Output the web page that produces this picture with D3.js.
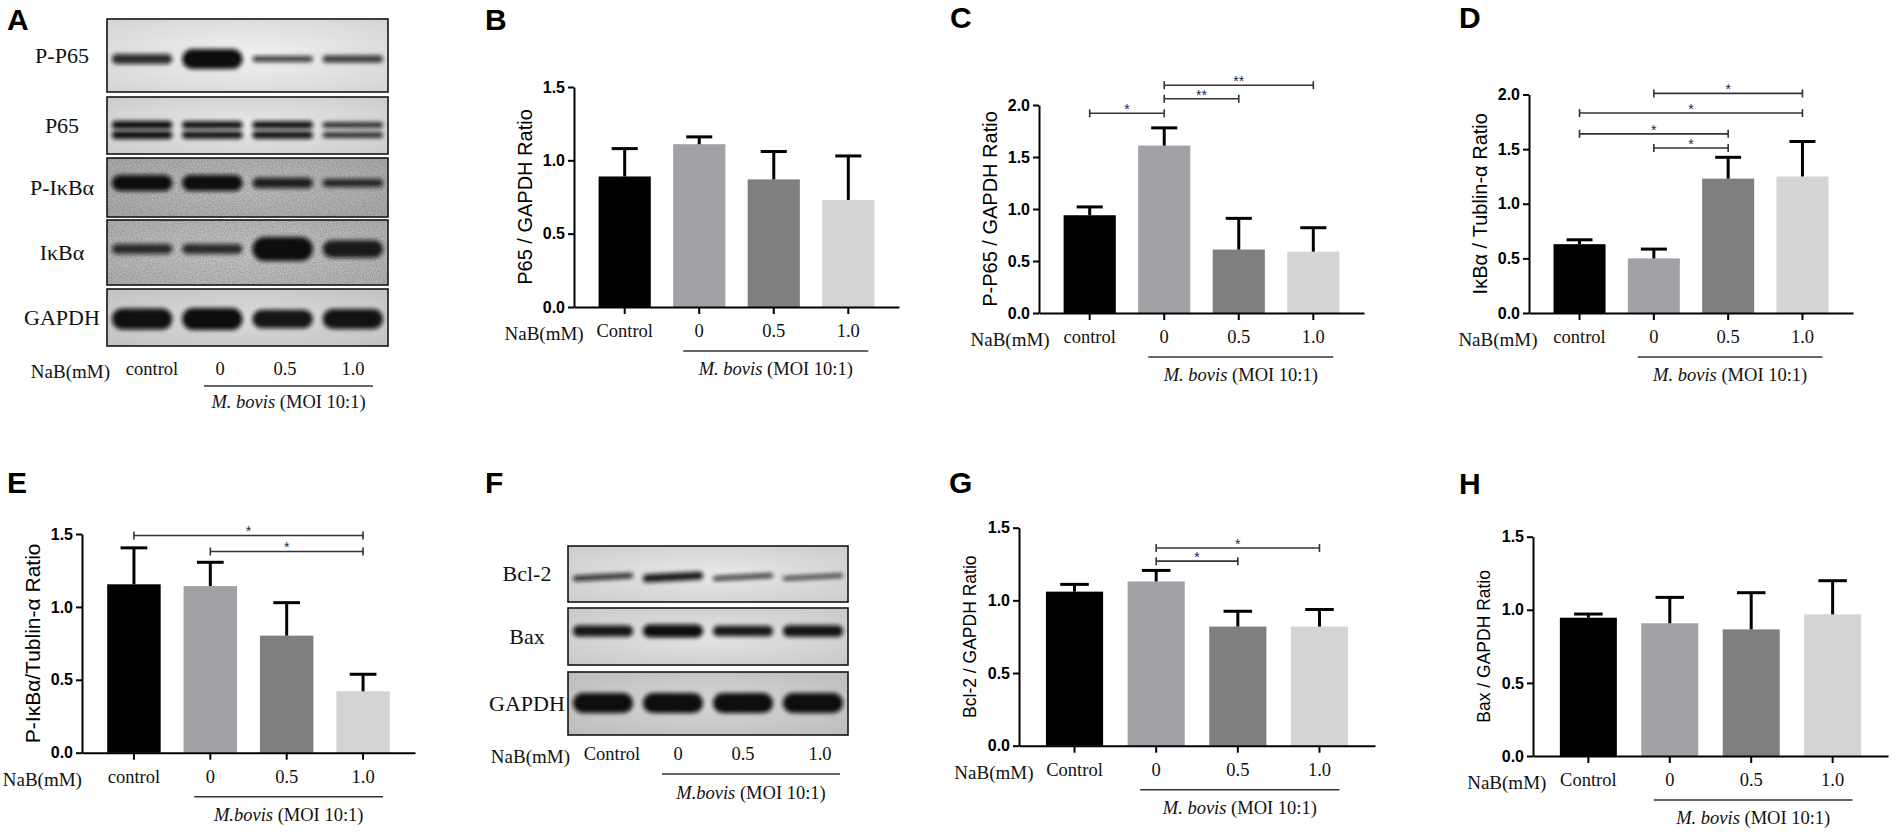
<!DOCTYPE html>
<meta charset="utf-8">
<script src="https://d3js.org/d3.v7.min.js"></script>
<style>
  body { margin: 0; background: #fff; }
  svg { display: block; }
</style>
<body>
<div id="fig"></div>

<script>
// ---- data ----
var groupsLower = ["control", "0", "0.5", "1.0"];
var groupsUpper = ["Control", "0", "0.5", "1.0"];

// B: P65 / GAPDH
var p65Mean = [0.89, 1.11, 0.87, 0.73];
var p65Sd   = [0.19, 0.05, 0.19, 0.30];
// C: P-P65 / GAPDH
var pp65Mean = [0.94, 1.61, 0.61, 0.59];
var pp65Sd   = [0.08, 0.17, 0.30, 0.23];
var pp65Sig  = [[0, 1, 1.92, "*"], [1, 2, 2.06, "**"], [1, 3, 2.19, "**"]];
// D: IkBa / Tublin-a
var ikbMean = [0.63, 0.50, 1.23, 1.25];
var ikbSd   = [0.04, 0.085, 0.195, 0.32];
var ikbSig  = [[1, 3, 2.01, "*"], [0, 3, 1.83, "*"], [0, 2, 1.64, "*"], [1, 2, 1.51, "*"]];
// E: P-IkBa / Tublin-a
var pikbMean = [1.155, 1.143, 0.803, 0.421];
var pikbSd   = [0.25, 0.163, 0.226, 0.117];
var pikbSig  = [[0, 3, 1.49, "*"], [1, 3, 1.38, "*"]];
// G: Bcl-2 / GAPDH
var bcl2Mean = [1.06, 1.13, 0.82, 0.82];
var bcl2Sd   = [0.05, 0.076, 0.105, 0.117];
var bcl2Sig  = [[1, 2, 1.27, "*"], [1, 3, 1.36, "*"]];
// H: Bax / GAPDH
var baxMean = [0.946, 0.908, 0.866, 0.969];
var baxSd   = [0.025, 0.177, 0.251, 0.23];

// relative band strength per lane (western blots)
var bandPP65  = [0.5, 1.0, 0.3, 0.35];
var bandP65   = [1.0, 0.95, 0.95, 0.7];
var bandPIkb  = [1.0, 1.0, 0.65, 0.5];
var bandIkb   = [0.42, 0.42, 1.0, 0.72];
var bandGapA  = [0.95, 1.0, 0.85, 0.9];
var bandBcl2  = [0.55, 0.8, 0.45, 0.4];
var bandBax   = [0.85, 1.0, 0.8, 0.9];
var bandGapF  = [1.0, 1.0, 1.0, 1.0];

var barColors = ["#000000", "#a2a2a6", "#7f7f7f", "#d4d4d4"];
var SANS = '"Liberation Sans", Arial, sans-serif';
var SERIF = '"Liberation Serif", "Times New Roman", serif';

var svg = d3.select("#fig").append("svg")
  .attr("width", 1900)
  .attr("height", 839);

var defs = svg.append("defs");
defs.append("filter").attr("id", "blur")
  .attr("x", "-20%").attr("y", "-80%").attr("width", "140%").attr("height", "260%")
  .append("feGaussianBlur").attr("stdDeviation", 2.3);
var vig = defs.append("radialGradient").attr("id", "vignette")
  .attr("cx", "50%").attr("cy", "50%").attr("r", "70%");
vig.append("stop").attr("offset", "0%").attr("stop-color", "#000").attr("stop-opacity", 0);
vig.append("stop").attr("offset", "100%").attr("stop-color", "#000").attr("stop-opacity", 0.12);
var noise = defs.append("filter").attr("id", "noise");
noise.append("feTurbulence").attr("type", "fractalNoise").attr("baseFrequency", 0.8).attr("numOctaves", 2).attr("seed", 3);
noise.append("feColorMatrix").attr("type", "matrix")
  .attr("values", "0 0 0 0 0  0 0 0 0 0  0 0 0 0 0  0 0 0 0.5 -0.1");

function panelLetter(t, x, y) {
  svg.append("text").attr("x", x).attr("y", y)
    .style("font-family", SANS).style("font-weight", "bold").style("font-size", "30px")
    .text(t);
}

// NaB row, lane labels, bracket line and M. bovis caption
function laneLabels(centers, labels, o) {
  var g = svg.append("g").style("font-family", SERIF).style("fill", "#111");
  g.append("text").attr("x", o.nabEnd).attr("y", o.base + 3)
    .attr("text-anchor", "end").style("font-size", "19px").text("NaB(mM)");
  g.selectAll("text.lane").data(labels).join("text").attr("class", "lane")
    .attr("x", function(d, i) { return centers[i]; })
    .attr("y", o.base)
    .attr("text-anchor", "middle").style("font-size", "18.5px")
    .text(function(d) { return d; });
  g.append("line")
    .attr("x1", centers[1] - 16).attr("x2", centers[3] + 20)
    .attr("y1", o.lineY).attr("y2", o.lineY)
    .attr("stroke", "#333").attr("stroke-width", 1.6);
  var t = g.append("text").attr("x", (centers[1] + centers[3]) / 2 + 2).attr("y", o.capY)
    .attr("text-anchor", "middle").style("font-size", "18.5px");
  t.append("tspan").style("font-style", "italic").text(o.bovis);
  t.append("tspan").text(" (MOI 10:1)");
}

function barChart(c) {
  var g = svg.append("g");
  var x = d3.scaleBand().domain(d3.range(4)).range([c.x0, c.x1])
    .paddingInner(0.3).paddingOuter(0.33);
  var y = d3.scaleLinear().domain([0, c.ymax]).range([c.yb, c.yt]);
  var bw = x.bandwidth();
  var cx = function(i) { return x(i) + bw / 2; };

  g.selectAll("rect.bar").data(c.mean).join("rect")
    .attr("x", function(d, i) { return x(i); })
    .attr("y", function(d) { return y(d); })
    .attr("width", bw)
    .attr("height", function(d) { return y(0) - y(d); })
    .attr("fill", function(d, i) { return barColors[i]; });

  var eb = g.selectAll("g.err").data(c.mean).join("g").attr("class", "err")
    .attr("stroke", "#000").attr("stroke-width", 3);
  eb.append("line")
    .attr("x1", function(d, i) { return cx(i); })
    .attr("x2", function(d, i) { return cx(i); })
    .attr("y1", function(d) { return y(d); })
    .attr("y2", function(d, i) { return y(d + c.sd[i]); });
  eb.append("line")
    .attr("x1", function(d, i) { return cx(i) - bw / 4; })
    .attr("x2", function(d, i) { return cx(i) + bw / 4; })
    .attr("y1", function(d, i) { return y(d + c.sd[i]); })
    .attr("y2", function(d, i) { return y(d + c.sd[i]); });

  var ya = g.append("g").attr("transform", "translate(" + c.x0 + ",0)")
    .call(d3.axisLeft(y).tickValues(d3.range(0, c.ymax + 0.01, 0.5))
      .tickFormat(d3.format(".1f")).tickSize(6).tickSizeOuter(0).tickPadding(3));
  ya.selectAll("path, line").attr("stroke", "#000").attr("stroke-width", 2);
  ya.selectAll("text").style("font-family", SANS).style("font-weight", "bold")
    .style("font-size", "16px").attr("fill", "#000");

  var xa = g.append("g").attr("transform", "translate(0," + c.yb + ")")
    .call(d3.axisBottom(x).tickFormat("").tickSize(7).tickSizeOuter(0));
  xa.selectAll("path, line").attr("stroke", "#000").attr("stroke-width", 2);

  g.append("text")
    .attr("transform", "translate(" + (c.x0 - 49) + "," + ((c.yb + c.yt) / 2) + ") rotate(-90)")
    .attr("text-anchor", "middle").attr("dy", "0.35em")
    .style("font-family", SANS).style("font-size", c.titleSize + "px")
    .text(c.title);

  // significance brackets
  (c.sig || []).forEach(function(s) {
    var xa1 = cx(s[0]), xb1 = cx(s[1]), yy = y(s[2]);
    var b = g.append("g").attr("stroke", "#333").attr("stroke-width", 1.6);
    b.append("line").attr("x1", xa1).attr("x2", xb1).attr("y1", yy).attr("y2", yy);
    b.append("line").attr("x1", xa1).attr("x2", xa1).attr("y1", yy - 4).attr("y2", yy + 4);
    b.append("line").attr("x1", xb1).attr("x2", xb1).attr("y1", yy - 4).attr("y2", yy + 4);
    g.append("text").attr("x", (xa1 + xb1) / 2).attr("y", yy + 1)
      .attr("text-anchor", "middle")
      .style("font-family", SANS).style("font-size", "14px").attr("fill", "#1d2550")
      .text(s[3]);
  });

  laneLabels(d3.range(4).map(cx), c.labels, {
    nabEnd: cx(0) - c.nabGap, base: c.yb + 30, lineY: c.yb + 44,
    capY: c.yb + 68, bovis: c.bovis
  });
}

// western blot panel
function blot(c) {
  var x = d3.scaleBand().domain(d3.range(4)).range([c.x0, c.x1]);
  var bw = x.bandwidth();
  c.rows.forEach(function(r, k) {
    var g = svg.append("g");
    var clipId = c.id + "clip" + k;
    defs.append("clipPath").attr("id", clipId).append("rect")
      .attr("x", c.x0).attr("y", r.y0).attr("width", c.x1 - c.x0).attr("height", r.y1 - r.y0);
    var inner = g.append("g").attr("clip-path", "url(#" + clipId + ")");
    inner.append("rect").attr("x", c.x0).attr("y", r.y0)
      .attr("width", c.x1 - c.x0).attr("height", r.y1 - r.y0).attr("fill", r.bg);
    if (r.grain) {
      inner.append("rect").attr("x", c.x0).attr("y", r.y0)
        .attr("width", c.x1 - c.x0).attr("height", r.y1 - r.y0)
        .attr("filter", "url(#noise)").attr("opacity", 0.7);
    }
    inner.append("rect").attr("x", c.x0).attr("y", r.y0)
      .attr("width", c.x1 - c.x0).attr("height", r.y1 - r.y0).attr("fill", "url(#vignette)");
    var offs = r.double ? [-5, 5] : [0];
    offs.forEach(function(off) {
      inner.selectAll(null).data(r.bands).join("rect")
        .attr("x", function(d, i) { return x(i) + bw * 0.07; })
        .attr("width", bw * 0.86)
        .attr("y", function(d) { return r.cy + off - r.maxT * d / 2; })
        .attr("height", function(d) { return r.maxT * d; })
        .attr("rx", function(d) { return r.maxT * d / 2; })
        .attr("fill", "#0c0c0c")
        .attr("opacity", function(d) { return 0.7 + 0.3 * d; })
        .attr("filter", "url(#blur)")
        .attr("transform", function(d, i) {
          return r.tilt ? "rotate(" + r.tilt + "," + (x(i) + bw / 2) + "," + r.cy + ")" : null;
        });
    });
    g.append("rect").attr("x", c.x0).attr("y", r.y0)
      .attr("width", c.x1 - c.x0).attr("height", r.y1 - r.y0)
      .attr("fill", "none").attr("stroke", "#151515").attr("stroke-width", 1.6);
    svg.append("text").attr("x", c.labelX).attr("y", (r.y0 + r.y1) / 2 + 7)
      .attr("text-anchor", "middle")
      .style("font-family", SERIF).style("font-size", "22px").attr("fill", "#111")
      .text(r.label);
  });
  return d3.range(4).map(function(i) { return x(i) + bw / 2; });
}

// ---- A ----
panelLetter("A", 7, 30);
blot({
  id: "a", x0: 107, x1: 388, labelX: 62,
  rows: [
    { label: "P-P65", y0: 19, y1: 92, bg: "#f1f1f1", bands: bandPP65, maxT: 20, cy: 59 },
    { label: "P65", y0: 97, y1: 154, bg: "#e8e8e8", bands: bandP65, maxT: 8, cy: 130, double: true },
    { label: "P-I\u03baB\u03b1", y0: 158, y1: 217, bg: "#cacaca", bands: bandPIkb, maxT: 16, cy: 183, grain: true },
    { label: "I\u03baB\u03b1", y0: 220, y1: 285, bg: "#d2d2d2", bands: bandIkb, maxT: 24, cy: 249, grain: true },
    { label: "GAPDH", y0: 289, y1: 346, bg: "#dcdcdc", bands: bandGapA, maxT: 22, cy: 319 }
  ]
});
laneLabels([152, 220, 285, 353], groupsLower, {
  nabEnd: 110, base: 375, lineY: 386, capY: 408, bovis: "M. bovis"
});

// ---- B, C, D ----
panelLetter("B", 485, 30);
barChart({ x0: 574, x1: 899, yb: 307, yt: 87, ymax: 1.5, mean: p65Mean, sd: p65Sd,
  title: "P65 / GAPDH Ratio", titleSize: 20, labels: groupsUpper, nabGap: 41, bovis: "M. bovis" });

panelLetter("C", 950, 28);
barChart({ x0: 1039, x1: 1364, yb: 313, yt: 105, ymax: 2, mean: pp65Mean, sd: pp65Sd, sig: pp65Sig,
  title: "P-P65 / GAPDH Ratio", titleSize: 20, labels: groupsLower, nabGap: 40, bovis: "M. bovis" });

panelLetter("D", 1459, 28);
barChart({ x0: 1529, x1: 1853, yb: 313, yt: 94.5, ymax: 2, mean: ikbMean, sd: ikbSd, sig: ikbSig,
  title: "I\u03baB\u03b1 / Tublin-\u03b1 Ratio", titleSize: 20, labels: groupsLower, nabGap: 42, bovis: "M. bovis" });

// ---- E ----
panelLetter("E", 7, 493);
barChart({ x0: 82, x1: 415, yb: 752.7, yt: 534, ymax: 1.5, mean: pikbMean, sd: pikbSd, sig: pikbSig,
  title: "P-I\u03baB\u03b1/Tublin-\u03b1 Ratio", titleSize: 21, labels: groupsLower, nabGap: 52, bovis: "M.bovis" });

// ---- F ----
panelLetter("F", 485, 493);
blot({
  id: "f", x0: 568, x1: 848, labelX: 527,
  rows: [
    { label: "Bcl-2", y0: 546, y1: 602, bg: "#e8e8e8", bands: bandBcl2, maxT: 10, cy: 577, tilt: -3 },
    { label: "Bax", y0: 608, y1: 665, bg: "#e4e4e4", bands: bandBax, maxT: 13, cy: 631 },
    { label: "GAPDH", y0: 672, y1: 735, bg: "#d6d6d6", bands: bandGapF, maxT: 20, cy: 703 }
  ]
});
laneLabels([612, 678, 743, 820], groupsUpper, {
  nabEnd: 570, base: 760, lineY: 774, capY: 799, bovis: "M.bovis"
});

// ---- G, H ----
panelLetter("G", 949, 493);
barChart({ x0: 1019, x1: 1375, yb: 745.7, yt: 527.7, ymax: 1.5, mean: bcl2Mean, sd: bcl2Sd, sig: bcl2Sig,
  title: "Bcl-2 / GAPDH Ratio", titleSize: 17.5, labels: groupsUpper, nabGap: 41, bovis: "M. bovis" });

panelLetter("H", 1459, 494);
barChart({ x0: 1533, x1: 1888, yb: 756, yt: 536.7, ymax: 1.5, mean: baxMean, sd: baxSd,
  title: "Bax / GAPDH Ratio", titleSize: 17.5, labels: groupsUpper, nabGap: 42, bovis: "M. bovis" });
</script>
</body>
